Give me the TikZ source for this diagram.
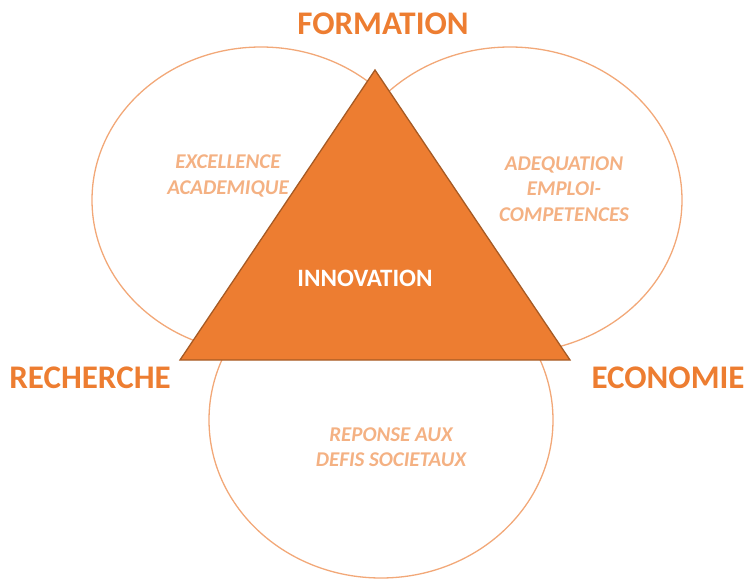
\documentclass[tikz,border=0pt]{standalone}
\usepackage{fontspec}
\setmainfont{Carlito}
\definecolor{accent}{HTML}{ED7D31}
\definecolor{accentdark}{HTML}{A65A24}
\definecolor{ring}{HTML}{F2A878}
\definecolor{soft}{HTML}{F4B183}
\begin{document}
\begin{tikzpicture}[x=1pt,y=-1pt,
  ringline/.style={draw=ring,line width=1.3pt},
  pillar/.style={text=accent,font=\bfseries\fontsize{33}{38}\selectfont,inner sep=0pt},
  goal/.style={text=soft,font=\bfseries\itshape\fontsize{21}{25.5}\selectfont,align=center,inner sep=0pt},
  core/.style={text=white,font=\bfseries\fontsize{25}{29}\selectfont,inner sep=0pt}]
\useasboundingbox (0,0) rectangle (748,581);
% three overlapping rings
\draw[ringline] (261,200) ellipse [x radius=169, y radius=153];
\draw[ringline] (510,200) ellipse [x radius=172, y radius=153];
\draw[ringline] (381,420) ellipse [x radius=172, y radius=158];
% central triangle
\coordinate (apex) at (375,70);
\coordinate (bl) at (180,360);
\coordinate (br) at (570,360);
\filldraw[fill=accent,draw=accentdark,line width=1.3pt,line join=miter] (apex) -- (bl) -- (br) -- cycle;
% labels
\node[core] (innov) at (365,278) {INNOVATION};
\node[pillar] (form) at (383,24) {FORMATION};
\node[pillar] (rech) at (90,378) {RECHERCHE};
\node[pillar] (eco) at (668,378) {ECONOMIE};
\node[goal] (exc) at (228,176) {EXCELLENCE\\ACADEMIQUE};
\node[goal] (adeq) at (564,189) {ADEQUATION\\EMPLOI-\\COMPETENCES};
\node[goal] (rep) at (391,447) {REPONSE AUX\\DEFIS SOCIETAUX};
\end{tikzpicture}
\end{document}
